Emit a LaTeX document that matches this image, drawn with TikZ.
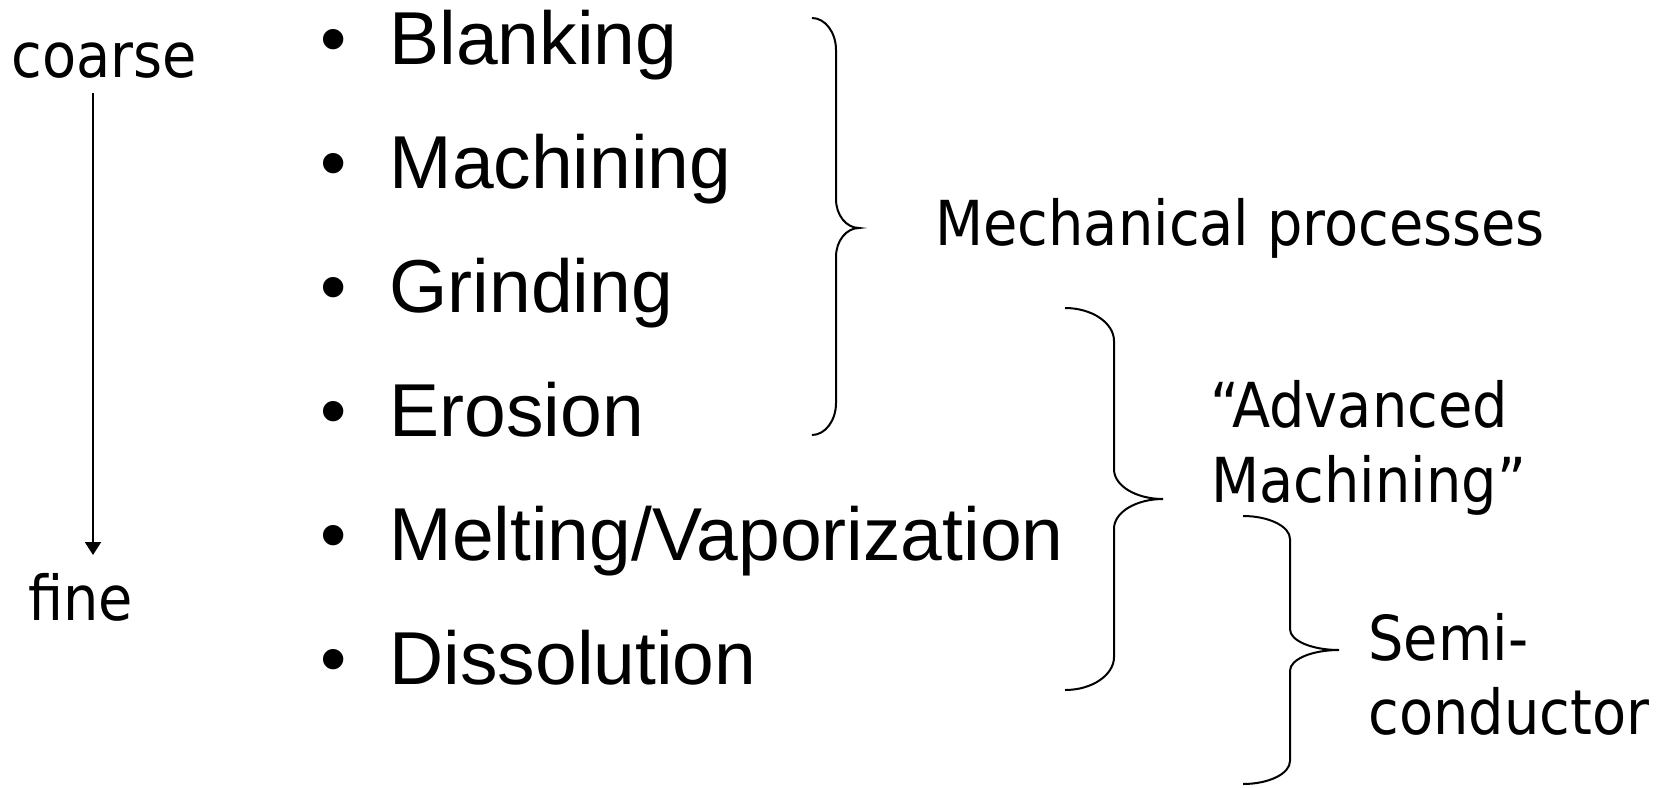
\documentclass[tikz,border=0pt]{standalone}
\usepackage{fontspec}
\setmainfont{Liberation Sans}
\newfontfamily\labfont[FakeStretch=0.9]{DejaVu Sans}
\usetikzlibrary{arrows.meta}
\newcommand\mybrace[7]{%
  \draw[br] (#1,#4) .. controls ({#1+0.55*(#2-#1)},#4) and (#2,{#4+0.45*#7}) .. (#2,{#4+#7})
    -- (#2,{#5-0.9*#7}) .. controls (#2,{#5-0.4*#7}) and ({#2+0.45*(#3-#2)},#5) .. (#3,#5)
    .. controls ({#2+0.45*(#3-#2)},#5) and (#2,{#5+0.4*#7}) .. (#2,{#5+0.9*#7})
    -- (#2,{#6-#7}) .. controls (#2,{#6-0.45*#7}) and ({#1+0.55*(#2-#1)},#6) .. (#1,#6);
}
\begin{document}
\begin{tikzpicture}[x=0.5pt,y=-0.5pt,
  item/.style={anchor=base west,inner sep=0pt,font=\fontsize{37.5pt}{44pt}\selectfont},
  lab/.style={anchor=base west,inner sep=0pt,font=\labfont\fontsize{31pt}{37.8pt}\selectfont},
  br/.style={line width=1pt},
  arr/.style={line width=1pt,-{Triangle[length=6.5pt,width=8pt]}}]
\useasboundingbox[fill=white] (0,0) rectangle (1669,787);
% left scale
\node[lab] (coarse) at (11,77) {coarse};
\node[lab] (fine) at (28,620) {fine};
\coordinate (a1) at (93,93);
\coordinate (a2) at (93,555);
\draw[arr] (a1) -- (a2);
% items
\node[item] (i1) at (320,64) {\makebox[34.6pt][l]{•}Blanking};
\node[item] (i2) at (320,188) {\makebox[34.6pt][l]{•}Machining};
\node[item] (i3) at (320,312) {\makebox[34.6pt][l]{•}Grinding};
\node[item] (i4) at (320,436) {\makebox[34.6pt][l]{•}Erosion};
\node[item] (i5) at (320,560) {\makebox[34.6pt][l]{•}Melting/Vaporization};
\node[item] (i6) at (320,684) {\makebox[34.6pt][l]{•}Dissolution};
% braces
\mybrace{812}{836}{859}{18}{228}{435}{32}
\mybrace{1065}{1114}{1163}{308}{499}{690}{33}
\mybrace{1243}{1290}{1339}{516}{650}{784}{23}
% group labels
\node[lab] (mech) at (935,245) {Mechanical processes};
\node[lab] (adv1) at (1210,427) {“Advanced};
\node[lab] (adv2) at (1211,502) {Machining”};
\node[lab] (semi1) at (1368,660) {Semi-};
\node[lab] (semi2) at (1368,734) {conductor};
\end{tikzpicture}
\end{document}
